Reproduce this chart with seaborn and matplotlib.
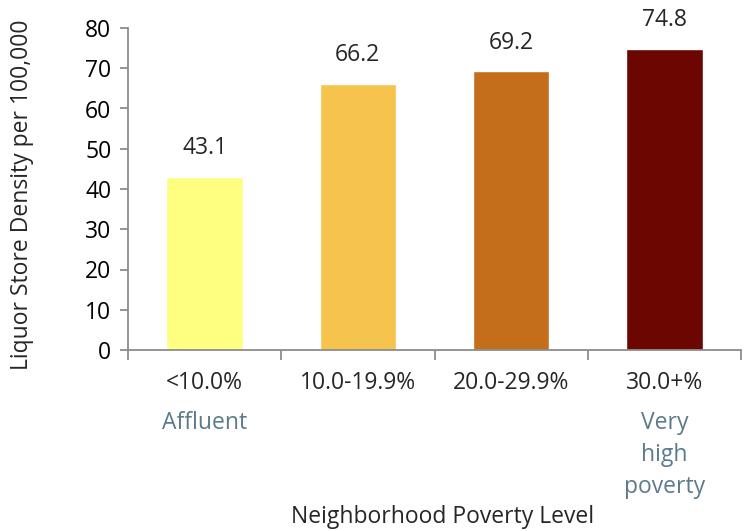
import matplotlib
matplotlib.use("Agg")
import matplotlib.pyplot as plt
import seaborn as sns
import pandas as pd
from matplotlib.transforms import blended_transform_factory

categories = ["<10.0%", "10.0-19.9%", "20.0-29.9%", "30.0+%"]
density = [43.1, 66.2, 69.2, 74.8]
bar_colors = ["#FEFE80", "#F6C44C", "#C46E1C", "#6B0600"]
sublabels = {"<10.0%": "Affluent", "30.0+%": "Very\nhigh\npoverty"}
yticks = [0, 10, 20, 30, 40, 50, 60, 70, 80]

sns.set_style("white")
plt.rcParams["font.family"] = ["Open Sans", "DejaVu Sans"]
FS = 16.5

df = pd.DataFrame({"level": categories, "density": density})

fig = plt.figure(figsize=(7.45, 5.31), dpi=100)
ax = fig.add_axes([128 / 745, 1 - 350 / 531, (741 - 128) / 745, (350 - 28) / 531])

sns.barplot(data=df, x="level", y="density", hue="level", palette=bar_colors,
            order=categories, hue_order=categories, width=0.5, legend=False,
            saturation=1, ax=ax)

ax.set_xlim(-0.5, len(categories) - 0.5)
ax.set_ylim(0, 80)
ax.set_yticks(yticks)
ax.set_yticklabels([str(t) for t in yticks], fontsize=FS)

axis_gray = "#8C8C8C"
for side in ["top", "right"]:
    ax.spines[side].set_visible(False)
for side in ["left", "bottom"]:
    ax.spines[side].set_color(axis_gray)
    ax.spines[side].set_linewidth(1.3)

ax.tick_params(axis="y", which="major", left=True, length=6, width=1.3,
               color=axis_gray, pad=6, labelcolor="black")
# Category labels centred under the bars, dividers between categories
ax.set_xticks(range(len(categories)))
ax.set_xticklabels(categories, fontsize=FS)
ax.tick_params(axis="x", which="major", bottom=False, length=0, pad=15)
ax.set_xticks([i - 0.5 for i in range(len(categories) + 1)], minor=True)
ax.tick_params(axis="x", which="minor", bottom=True, length=7, width=1.3,
               color=axis_gray)
ax.set_xlabel("")
ax.set_ylabel("")

# Value labels above each bar
for i, v in enumerate(density):
    ax.annotate(f"{v:.1f}", xy=(i, v), xytext=(0, 12), textcoords="offset points",
                ha="center", va="bottom", fontsize=FS, annotation_clip=False)

# Descriptive notes under the end categories
trans = blended_transform_factory(ax.transData, fig.transFigure)
for i, cat in enumerate(categories):
    if cat in sublabels:
        ax.text(i, 1 - 411 / 531, sublabels[cat], transform=trans, ha="center",
                va="top", fontsize=FS, color="#5B7A8C", linespacing=1.45)

fig.text(443 / 745, 1 - 517 / 531, "Neighborhood Poverty Level", ha="center",
         va="center", fontsize=FS)
fig.text(22 / 745, 1 - 195 / 531, "Liquor Store Density per 100,000", ha="center",
         va="center", rotation=90, fontsize=FS)

fig.savefig("out.png", dpi=100)
